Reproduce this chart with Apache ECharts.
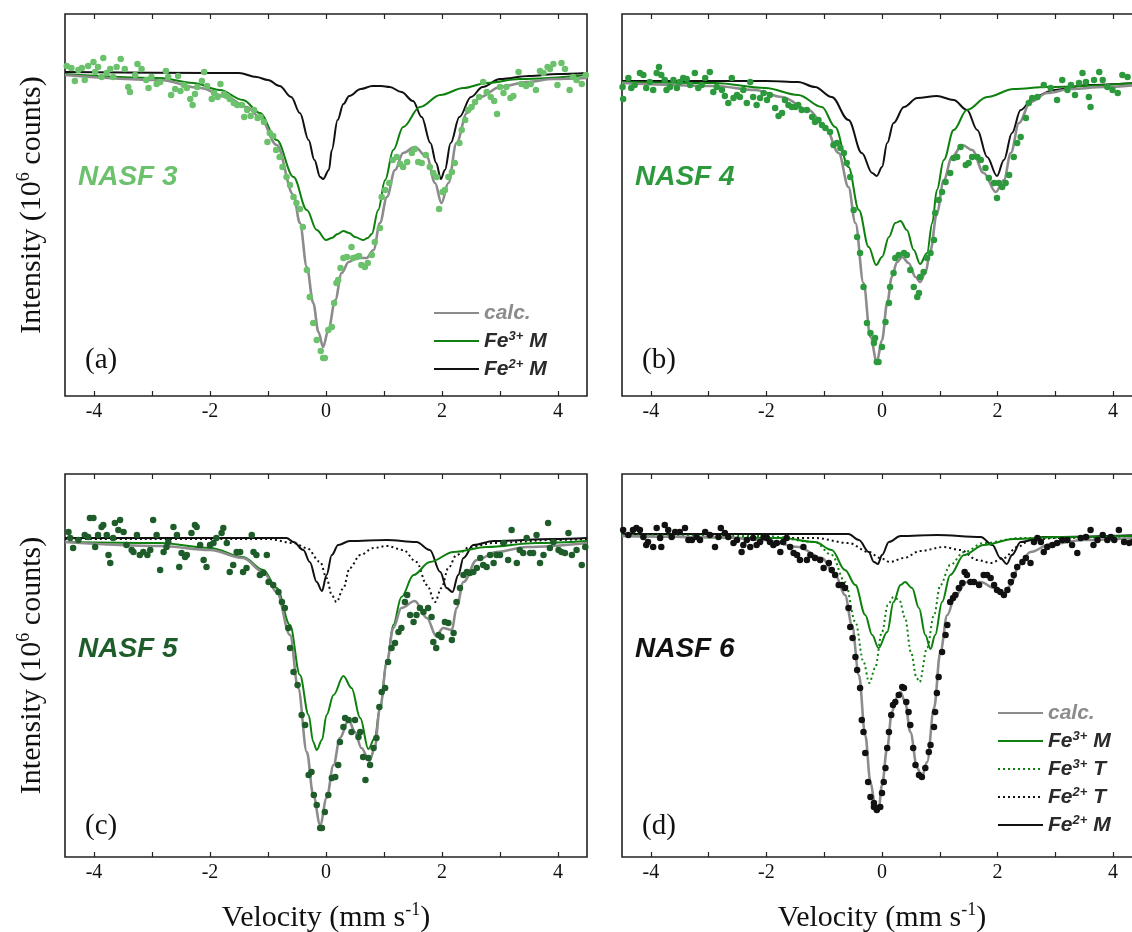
<!DOCTYPE html>
<html>
<head>
<meta charset="utf-8">
<script src="https://cdn.jsdelivr.net/npm/echarts@6/dist/echarts.min.js"></script>
<style>
  html, body { margin: 0; padding: 0; background: #fff; }
  #chart { width: 1132px; height: 932px; }
</style>
</head>
<body>
<div id="chart"></div>
<script>
// Mössbauer spectra of four NASF glasses: velocity (mm/s) vs. intensity (arbitrary count units)
const velTicks = [-4, -3, -2, -1, 0, 1, 2, 3, 4];
const velLabels = [-4, -2, 0, 2, 4];
const sampleNames = ['NASF 3', 'NASF 4', 'NASF 5', 'NASF 6'];
const panelTags = ['(a)', '(b)', '(c)', '(d)'];

// ---------- NASF 3 ----------
const obsA = [[-4.47,344],[-4.39,342],[-4.33,329],[-4.27,340],[-4.21,342],[-4.16,330],[-4.10,344],[-4.01,348],[-3.98,338],[-3.93,343],[-3.87,333],[-3.84,352],[-3.78,337],[-3.72,341],[-3.67,333],[-3.61,343],[-3.54,351],[-3.47,341],[-3.41,323],[-3.38,318],[-3.29,335],[-3.25,346],[-3.18,341],[-3.10,330],[-3.06,322],[-3.01,333],[-2.92,326],[-2.86,328],[-2.76,339],[-2.72,333],[-2.67,315],[-2.60,321],[-2.55,334],[-2.51,319],[-2.45,325],[-2.40,322],[-2.34,311],[-2.30,305],[-2.26,316],[-2.22,323],[-2.14,329],[-2.10,338],[-2.05,324],[-1.97,311],[-1.93,317],[-1.87,313],[-1.82,326],[-1.76,316],[-1.71,314],[-1.66,311],[-1.59,307],[-1.53,305],[-1.45,305],[-1.41,293],[-1.36,300],[-1.30,294],[-1.24,300],[-1.18,292],[-1.13,293],[-1.07,288],[-1.01,268],[-0.97,277],[-0.91,274],[-0.86,260],[-0.80,253],[-0.75,243],[-0.68,233],[-0.62,225],[-0.56,213],[-0.51,207],[-0.45,201],[-0.40,183],[-0.33,140],[-0.28,113],[-0.22,87],[-0.16,70],[-0.09,59],[-0.02,52],
  [-0.05,52],[0.04,80],[0.10,83],[0.14,107],[0.18,127],[0.21,130],[0.25,142],[0.30,152],[0.36,153],[0.44,163],[0.47,152],[0.53,153],[0.57,154],[0.61,145],[0.67,143],[0.72,147],[0.79,155],[0.84,168],[0.93,182],[0.96,213],[1.02,220],[1.09,227],[1.15,250],[1.22,253],[1.28,246],[1.33,243],[1.40,248],[1.48,257],[1.53,261],[1.59,248],[1.65,247],[1.72,255],[1.79,243],[1.85,237],[1.91,233],[1.95,201],[2.01,218],[2.05,220],[2.11,233],[2.17,238],[2.22,247],[2.30,267],[2.34,280],[2.40,290],[2.45,300],[2.51,303],[2.57,308],[2.64,313],[2.71,328],[2.77,318],[2.84,313],[2.90,309],[2.95,296],[3.00,323],[3.06,317],[3.11,323],[3.18,312],[3.23,314],[3.32,338],[3.37,326],[3.45,324],[3.53,326],[3.62,320],[3.69,339],[3.75,337],[3.82,343],[3.86,341],[3.92,346],[3.99,325],[4.06,347],[4.12,341],[4.20,320],[4.26,333],[4.32,330],[4.41,326],[4.48,335]];
const calcA = [[-4.5,335],[-2.86,330],[-2.17,322],[-1.71,313],[-1.37,303],[-1.14,293],[-0.85,265],[-0.56,215],[-0.45,187],[-0.33,143],[-0.22,107],[-0.13,78],[-0.05,63],[0.04,80],[0.16,110],[0.27,137],[0.39,148],[0.53,152],[0.70,152],[0.82,160],[0.93,187],[1.05,213],[1.19,240],[1.33,257],[1.53,263],[1.74,253],[1.88,227],[1.99,207],[2.11,227],[2.25,267],[2.43,297],[2.66,313],[3.0,323],[3.46,328],[3.92,331],[4.5,332]];
const fe3MA = [[-4.5,336],[-2.86,332],[-2.29,327],[-1.83,320],[-1.43,310],[-1.14,297],[-0.85,270],[-0.56,233],[-0.33,200],[-0.16,180],[0,170],[0.1,172],[0.2,176],[0.3,179],[0.4,177],[0.5,173],[0.64,170],[0.72,172],[0.79,176],[0.9,200],[1.02,230],[1.16,260],[1.33,283],[1.62,303],[1.97,315],[2.37,322],[2.77,327],[3.34,331],[4.5,335]];
const fe2MA = [[-4.5,338],[-2,337],[-1.5,337],[-1.2,333],[-1.0,330],[-0.8,324],[-0.6,313],[-0.45,297],[-0.3,270],[-0.2,250],[-0.1,233],[-0.05,231],[0.05,240],[0.1,260],[0.2,290],[0.3,306],[0.4,314],[0.6,321],[0.8,324],[0.95,324],[1.1,323],[1.3,318],[1.5,309],[1.65,293],[1.8,267],[1.9,247],[1.98,231],[2.05,240],[2.15,267],[2.3,293],[2.5,313],[2.7,323],[3.0,331],[3.5,334],[4.0,336],[4.5,337]];

// ---------- NASF 4 ----------
const obsB = [[-4.49,323],[-4.48,311],[-4.39,332],[-4.34,322],[-4.28,325],[-4.19,337],[-4.13,335],[-4.08,322],[-4.02,328],[-3.96,320],[-3.90,337],[-3.86,343],[-3.82,335],[-3.76,330],[-3.73,320],[-3.67,323],[-3.61,330],[-3.55,322],[-3.50,328],[-3.44,332],[-3.38,331],[-3.32,325],[-3.24,337],[-3.18,322],[-3.12,325],[-3.06,332],[-2.98,338],[-2.92,318],[-2.86,323],[-2.77,320],[-2.72,314],[-2.66,307],[-2.60,332],[-2.57,312],[-2.51,315],[-2.46,313],[-2.40,320],[-2.34,307],[-2.28,328],[-2.23,313],[-2.17,305],[-2.11,312],[-2.05,317],[-1.99,310],[-1.94,315],[-1.85,302],[-1.79,294],[-1.73,297],[-1.68,310],[-1.62,305],[-1.56,303],[-1.50,303],[-1.45,305],[-1.39,300],[-1.30,300],[-1.21,293],[-1.16,288],[-1.10,290],[-1.04,285],[-0.98,282],[-0.90,278],[-0.84,265],[-0.78,267],[-0.72,262],[-0.66,257],[-0.61,247],[-0.55,233],[-0.49,200],[-0.43,173],[-0.38,157],[-0.32,123],[-0.26,87],[-0.20,77],[-0.14,67],[-0.09,48],
  [-0.12,72],[-0.06,48],[0,63],[0.06,88],[0.12,107],[0.14,123],[0.20,137],[0.23,152],[0.29,155],[0.38,157],[0.43,155],[0.49,140],[0.55,123],[0.61,113],[0.64,117],[0.66,133],[0.72,138],[0.78,152],[0.84,157],[0.90,170],[0.92,197],[0.98,210],[1.04,218],[1.10,228],[1.18,237],[1.24,252],[1.30,253],[1.36,263],[1.45,245],[1.50,247],[1.56,253],[1.65,253],[1.71,250],[1.79,242],[1.85,232],[1.94,227],[1.99,212],[2.02,227],[2.08,223],[2.14,227],[2.20,235],[2.28,253],[2.34,267],[2.40,273],[2.49,292],[2.54,307],[2.60,312],[2.69,313],[2.80,325],[2.92,322],[3.03,310],[3.12,330],[3.21,320],[3.27,325],[3.34,315],[3.41,327],[3.47,337],[3.53,328],[3.58,313],[3.61,303],[3.67,330],[3.76,338],[3.82,330],[3.90,323],[3.99,320],[4.08,317],[4.16,335],[4.25,333]];
const calcB = [[-4.5,327],[-2.89,324],[-2.2,320],[-1.73,313],[-1.27,300],[-0.98,283],[-0.75,257],[-0.58,223],[-0.46,187],[-0.32,127],[-0.2,73],[-0.09,48],[0,70],[0.09,107],[0.17,133],[0.26,148],[0.35,153],[0.46,147],[0.58,133],[0.66,128],[0.75,137],[0.84,160],[0.95,197],[1.07,230],[1.21,253],[1.39,265],[1.56,260],[1.76,237],[1.97,218],[2.11,230],[2.23,257],[2.37,287],[2.57,308],[2.86,317],[3.27,321],[3.84,323],[4.4,325]];
const fe3MB = [[-4.5,328],[-2.89,327],[-2.02,322],[-1.45,315],[-1.04,303],[-0.81,283],[-0.58,243],[-0.4,200],[-0.23,163],[-0.1,145],[0,153],[0.12,173],[0.23,187],[0.32,189],[0.43,180],[0.55,160],[0.66,146],[0.78,157],[0.87,187],[0.95,220],[1.07,250],[1.24,280],[1.47,300],[1.82,313],[2.28,321],[2.86,323],[4.4,327]];
const fe2MB = [[-4.5,329],[-2,329],[-1.45,328],[-1.16,323],[-0.87,313],[-0.58,290],[-0.35,257],[-0.17,237],[-0.09,234],[0,243],[0.09,267],[0.2,287],[0.38,303],[0.61,312],[0.95,314],[1.24,310],[1.47,300],[1.65,280],[1.82,253],[1.99,234],[2.11,250],[2.25,277],[2.4,300],[2.63,313],[2.98,320],[3.55,325],[4.4,327]];

// ---------- NASF 5 ----------
const obsC = [[-4.44,343],[-4.41,337],[-4.36,327],[-4.27,335],[-4.16,340],[-4.10,338],[-4.07,357],[-4.01,357],[-3.98,328],[-3.93,340],[-3.87,348],[-3.84,350],[-3.78,340],[-3.75,320],[-3.72,312],[-3.67,337],[-3.64,352],[-3.58,345],[-3.55,355],[-3.49,343],[-3.44,330],[-3.35,325],[-3.32,323],[-3.26,340],[-3.21,320],[-3.15,323],[-3.08,320],[-3.03,325],[-2.98,355],[-2.92,340],[-2.86,305],[-2.80,323],[-2.75,328],[-2.72,333],[-2.63,348],[-2.57,340],[-2.53,308],[-2.49,322],[-2.43,318],[-2.40,320],[-2.32,342],[-2.26,350],[-2.23,348],[-2.17,330],[-2.11,315],[-2.06,308],[-2.00,330],[-1.94,332],[-1.89,337],[-1.80,342],[-1.77,347],[-1.71,332],[-1.66,303],[-1.60,310],[-1.54,323],[-1.48,323],[-1.43,303],[-1.37,307],[-1.28,340],[-1.25,323],[-1.20,320],[-1.14,300],[-1.08,302],[-1.02,320],[-0.99,293],[-0.91,290],[-0.82,283],[-0.76,273],[-0.71,267],[-0.65,247],[-0.62,227],[-0.56,203],[-0.49,190],[-0.42,160],[-0.36,150],[-0.30,100],[-0.25,103],[-0.21,80],[-0.16,70],[-0.10,47],
  [-0.07,47],[-0.02,63],[0.04,80],[0.10,97],[0.16,98],[0.21,110],[0.24,133],[0.30,148],[0.33,157],[0.39,155],[0.44,143],[0.50,155],[0.56,138],[0.59,143],[0.64,118],[0.68,95],[0.73,117],[0.76,110],[0.82,127],[0.87,137],[0.92,168],[0.96,183],[1.02,187],[1.07,213],[1.13,227],[1.19,232],[1.25,243],[1.30,247],[1.36,273],[1.40,280],[1.45,260],[1.51,253],[1.56,260],[1.62,267],[1.68,263],[1.76,267],[1.82,258],[1.85,233],[1.90,227],[1.94,240],[1.99,238],[2.05,253],[2.11,252],[2.17,235],[2.20,242],[2.25,273],[2.31,287],[2.37,300],[2.43,303],[2.48,302],[2.54,303],[2.60,307],[2.66,317],[2.71,310],[2.77,308],[2.83,320],[2.89,312],[2.94,320],[3.00,320],[3.06,332],[3.14,315],[3.20,345],[3.29,312],[3.34,325],[3.40,322],[3.46,337],[3.52,322],[3.57,322],[3.63,340],[3.69,312],[3.75,320],[3.83,352],[3.86,327],[3.92,333],[4.01,325],[4.06,323],[4.12,322],[4.18,342],[4.24,320],[4.32,325],[4.41,310],[4.47,328]];
const calcC = [[-4.5,333],[-2.86,329],[-2.0,325],[-1.43,317],[-1.08,303],[-0.85,283],[-0.62,240],[-0.48,187],[-0.33,123],[-0.22,80],[-0.1,50],[0.01,77],[0.13,110],[0.24,137],[0.39,155],[0.5,143],[0.61,127],[0.75,114],[0.84,127],[0.93,167],[1.05,213],[1.16,247],[1.3,267],[1.53,274],[1.74,257],[1.9,239],[2.02,247],[2.17,245],[2.25,267],[2.37,293],[2.6,315],[2.94,323],[3.46,328],[4.5,332]];
const fe3MC = [[-4.5,333],[-2.86,332],[-2.0,327],[-1.43,318],[-1.08,305],[-0.85,287],[-0.62,250],[-0.45,200],[-0.3,160],[-0.22,133],[-0.16,125],[-0.07,135],[0.01,160],[0.13,180],[0.3,199],[0.44,187],[0.59,157],[0.73,126],[0.84,137],[0.93,167],[1.05,213],[1.16,250],[1.3,278],[1.51,300],[1.79,313],[2.2,323],[2.77,328],[3.63,332],[4.5,334]];
const fe2TC = [[-4.5,336],[-1.0,336],[-0.56,332],[-0.33,327],[-0.1,313],[0.01,297],[0.1,280],[0.18,273],[0.3,287],[0.41,307],[0.59,320],[0.82,327],[1.05,329],[1.33,325],[1.56,313],[1.74,290],[1.88,273],[1.99,287],[2.11,307],[2.25,320],[2.48,328],[2.89,332],[3.92,335],[4.5,336]];
const fe2MC = [[-4.5,337],[-0.68,337],[-0.56,333],[-0.39,325],[-0.28,313],[-0.16,293],[-0.07,284],[0.01,300],[0.1,320],[0.21,330],[0.41,334],[1.05,335],[1.56,333],[1.79,325],[1.97,303],[2.08,287],[2.18,283],[2.28,300],[2.37,317],[2.54,330],[2.89,334],[3.92,336],[4.5,337]];

// ---------- NASF 6 ----------
const obsD = [[-4.48,345],[-4.39,340],[-4.31,345],[-4.25,347],[-4.19,345],[-4.13,338],[-4.08,330],[-4.05,333],[-3.96,328],[-3.90,347],[-3.84,337],[-3.82,328],[-3.76,350],[-3.70,345],[-3.64,338],[-3.58,343],[-3.50,343],[-3.41,347],[-3.35,335],[-3.29,335],[-3.21,338],[-3.15,335],[-3.06,343],[-2.98,340],[-2.89,328],[-2.83,338],[-2.79,347],[-2.72,342],[-2.66,338],[-2.57,332],[-2.51,335],[-2.43,323],[-2.40,330],[-2.34,335],[-2.28,328],[-2.23,337],[-2.17,330],[-2.11,333],[-2.05,338],[-1.99,337],[-1.94,333],[-1.88,330],[-1.82,332],[-1.76,323],[-1.71,333],[-1.65,337],[-1.59,328],[-1.53,322],[-1.47,320],[-1.42,315],[-1.36,328],[-1.30,315],[-1.24,320],[-1.16,317],[-1.07,315],[-1.01,307],[-0.92,312],[-0.87,305],[-0.81,300],[-0.75,290],[-0.69,290],[-0.64,287],[-0.58,267],[-0.55,248],[-0.51,237],[-0.46,218],[-0.43,205],[-0.38,187],[-0.35,155],[-0.32,143],[-0.29,122],[-0.24,93],[-0.20,78],[-0.14,68],[-0.09,65],
  [-0.14,72],[-0.09,67],[-0.03,68],[0.00,82],[0.03,93],[0.06,107],[0.09,127],[0.12,143],[0.16,160],[0.19,170],[0.23,173],[0.29,180],[0.35,188],[0.38,187],[0.42,173],[0.46,163],[0.49,150],[0.54,127],[0.58,110],[0.64,100],[0.69,98],[0.75,107],[0.81,123],[0.84,130],[0.90,148],[0.92,163],[0.95,182],[0.98,198],[1.04,223],[1.10,240],[1.13,250],[1.18,273],[1.23,277],[1.27,280],[1.33,287],[1.39,292],[1.43,303],[1.47,300],[1.53,293],[1.59,293],[1.68,290],[1.76,300],[1.82,300],[1.88,297],[1.94,290],[1.99,285],[2.05,283],[2.11,280],[2.17,285],[2.23,293],[2.28,300],[2.34,308],[2.43,313],[2.49,317],[2.57,312],[2.63,333],[2.69,337],[2.75,333],[2.80,323],[2.86,328],[2.95,330],[3.03,332],[3.12,335],[3.21,335],[3.29,330],[3.38,322],[3.44,337],[3.53,338],[3.61,345],[3.66,330],[3.73,335],[3.82,340],[3.90,335],[3.96,338],[4.02,335],[4.10,345],[4.19,333],[4.28,332],[4.34,333]];
const calcD = [[-4.5,339],[-2.89,338],[-2.02,335],[-1.45,328],[-1.04,317],[-0.81,300],[-0.64,280],[-0.52,250],[-0.4,200],[-0.29,140],[-0.2,93],[-0.12,70],[-0.06,65],[0,90],[0.09,127],[0.17,163],[0.26,178],[0.32,183],[0.4,173],[0.49,143],[0.61,107],[0.69,98],[0.78,113],[0.9,167],[1.01,223],[1.13,260],[1.27,280],[1.47,293],[1.71,293],[1.94,287],[2.11,281],[2.23,290],[2.37,310],[2.57,323],[2.92,331],[3.5,335],[4.4,337]];
const fe3MD = [[-4.5,339],[-1.73,337],[-1.16,333],[-0.87,325],[-0.64,305],[-0.46,290],[-0.29,260],[-0.17,240],[-0.06,227],[0.09,243],[0.2,273],[0.32,290],[0.4,293],[0.52,287],[0.64,267],[0.75,240],[0.84,226],[0.92,240],[1.04,273],[1.18,300],[1.42,320],[1.76,330],[2.28,336],[3.03,338],[4.4,339]];
const fe3TD = [[-4.5,340],[-2,339],[-1.16,333],[-0.87,320],[-0.64,293],[-0.46,253],[-0.32,213],[-0.22,192],[-0.12,207],[0,243],[0.1,270],[0.2,278],[0.3,275],[0.4,257],[0.5,223],[0.6,197],[0.65,193],[0.78,227],[0.9,260],[1.01,290],[1.18,310],[1.42,323],[1.76,332],[2.4,337],[4.4,339]];
const fe2TD = [[-4.5,340],[-1.16,337],[-0.58,332],[-0.23,323],[-0.03,317],[0.14,313],[0.38,317],[0.66,324],[1.07,328],[1.36,325],[1.65,315],[1.88,312],[2.11,317],[2.34,328],[2.57,335],[3.03,337],[4.4,339]];
const fe2MD = [[-4.5,341],[-0.58,341],[-0.4,335],[-0.23,323],[-0.14,313],[-0.07,311],[0,320],[0.12,333],[0.32,339],[0.95,340],[1.71,338],[1.91,330],[2.05,317],[2.16,311],[2.25,320],[2.4,333],[2.8,338],[4.4,340]];

// ---------- styling and layout ----------
const GREEN = '#0e800e';
const lineLook = {
  'calc.':  { color: '#8c8c8c', width: 2.6, type: 'solid' },
  'Fe3+ M': { color: GREEN,     width: 2,   type: 'solid' },
  'Fe3+ T': { color: GREEN,     width: 2,   type: [2, 3] },
  'Fe2+ T': { color: '#111',    width: 2,   type: [2, 3] },
  'Fe2+ M': { color: '#111',    width: 2,   type: 'solid' }
};

const panels = [
  { box: [65, 14, 522, 382],  yRange: [14, 396], dot: '#6cc16c', obs: obsA,
    curves: [['Fe2+ M', fe2MA], ['Fe3+ M', fe3MA], ['calc.', calcA]], bottom: false, left: true },
  { box: [622, 14, 520, 382], yRange: [14, 396], dot: '#2c9a3c', obs: obsB,
    curves: [['Fe2+ M', fe2MB], ['Fe3+ M', fe3MB], ['calc.', calcB]], bottom: false, left: false },
  { box: [65, 474, 522, 383], yRange: [18, 401], dot: '#1e5c2a', obs: obsC,
    curves: [['Fe2+ T', fe2TC], ['Fe2+ M', fe2MC], ['Fe3+ M', fe3MC], ['calc.', calcC]], bottom: true, left: true },
  { box: [622, 474, 520, 383], yRange: [18, 401], dot: '#111111', obs: obsD,
    curves: [['Fe2+ T', fe2TD], ['Fe2+ M', fe2MD], ['Fe3+ T', fe3TD], ['Fe3+ M', fe3MD], ['calc.', calcD]], bottom: true, left: false }
];
const tagColors = ['#6cc16c', '#2c9a3c', '#1e5c2a', '#111111'];

const serif = 'Liberation Serif';
const sans = 'Liberation Sans';
const axisNameRich = {
  t: { fontFamily: serif, fontSize: 30, color: '#111', lineHeight: 34 },
  s: { fontFamily: serif, fontSize: 18, color: '#111', lineHeight: 20, verticalAlign: 'top' }
};

const grids = [], xAxes = [], yAxes = [], series = [], graphics = [];
panels.forEach((p, i) => {
  grids.push({ left: p.box[0], top: p.box[1], width: p.box[2], height: p.box[3],
    show: true, borderColor: '#222', borderWidth: 1.6, containLabel: false,
    outerBoundsMode: 'none' });
  const tick = { show: true, inside: true, length: 5, customValues: velTicks,
    lineStyle: { color: '#222', width: 1.2 } };
  xAxes.push({
    gridIndex: i, type: 'value', min: -4.5, max: 4.5, position: 'bottom',
    axisLine: { show: false }, splitLine: { show: false }, axisTick: tick,
    axisLabel: { show: true, customValues: velLabels, margin: 6,
      fontFamily: serif, fontSize: 20, color: '#111' },
    name: p.bottom ? '{t|Velocity (mm s}{s|-1}{t|)}' : '',
    nameLocation: 'middle', nameGap: 44,
    nameTextStyle: { rich: axisNameRich }
  });
  xAxes.push({
    gridIndex: i, type: 'value', min: -4.5, max: 4.5, position: 'top',
    axisLine: { show: false }, splitLine: { show: false }, axisTick: tick,
    axisLabel: { show: false }
  });
  yAxes.push({
    gridIndex: i, type: 'value', min: p.yRange[0], max: p.yRange[1],
    axisLine: { show: false }, axisTick: { show: false }, axisLabel: { show: false },
    splitLine: { show: false },
    name: p.left ? '{t|Intensity (10}{s|6}{t| counts)}' : '',
    nameLocation: 'middle', nameGap: 16, nameRotate: 90,
    nameTextStyle: { rich: axisNameRich }
  });
  p.curves.forEach(([name, pts]) => {
    const lk = lineLook[name];
    series.push({
      type: 'line', name, data: pts, xAxisIndex: 2 * i, yAxisIndex: i,
      symbol: 'none', showSymbol: false, smooth: 0.35, smoothMonotone: 'x',
      lineStyle: { color: lk.color, width: lk.width, type: lk.type },
      itemStyle: { color: lk.color }, z: name === 'calc.' ? 3 : 2,
      silent: true
    });
  });
  series.push({
    type: 'scatter', name: sampleNames[i] + ' data', data: p.obs,
    xAxisIndex: 2 * i, yAxisIndex: i, symbol: 'circle', symbolSize: 6.5,
    itemStyle: { color: p.dot, opacity: 1 }, z: 4, silent: true
  });
  // sample name and panel letter
  const isBottom = p.bottom;
  graphics.push({
    type: 'text', x: p.box[0] + 13, y: isBottom ? 649 : 177,
    style: { text: sampleNames[i], fill: tagColors[i], font: 'italic bold 28px "Liberation Sans"',
      textVerticalAlign: 'middle' }
  });
  graphics.push({
    type: 'text', x: p.box[0] + 20, y: isBottom ? 826 : 360,
    style: { text: panelTags[i], fill: '#111', font: '29px "Liberation Serif"',
      textVerticalAlign: 'middle' }
  });
});

const legendRich = {
  c: { fontFamily: sans, fontSize: 21, fontWeight: 'bold', fontStyle: 'italic', color: '#8c8c8c', lineHeight: 22 },
  f: { fontFamily: sans, fontSize: 21, fontWeight: 'bold', fontStyle: 'italic', color: '#2a2a2a', lineHeight: 22 },
  s: { fontFamily: sans, fontSize: 13, fontWeight: 'bold', fontStyle: 'italic', color: '#2a2a2a', lineHeight: 12, verticalAlign: 'top' }
};
function legendText(name) {
  if (name === 'calc.') return '{c|calc.}';
  const m = name.match(/^Fe(\d\+) (\w)$/);
  return '{f|Fe}{s|' + m[1] + '}{f| ' + m[2] + '}';
}
const legendBase = {
  orient: 'vertical', itemWidth: 45, itemHeight: 14, itemGap: 6, padding: 0,
  selectedMode: false, formatter: legendText,
  itemStyle: { opacity: 0 },
  textStyle: { rich: legendRich, lineHeight: 22 }
};

const chart = echarts.init(document.getElementById('chart'), null, { renderer: 'canvas' });
chart.setOption({
  animation: false,
  backgroundColor: '#ffffff',
  grid: grids,
  xAxis: xAxes,
  yAxis: yAxes,
  series: series,
  legend: [
    Object.assign({}, legendBase, { left: 433, top: 302, data: ['calc.', 'Fe3+ M', 'Fe2+ M'] }),
    Object.assign({}, legendBase, { left: 997, top: 702, data: ['calc.', 'Fe3+ M', 'Fe3+ T', 'Fe2+ T', 'Fe2+ M'] })
  ],
  graphic: graphics
});
</script>
</body>
</html>
